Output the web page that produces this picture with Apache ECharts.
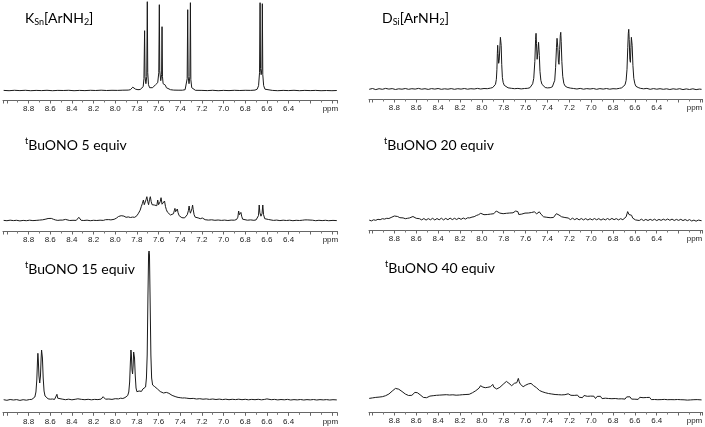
<!DOCTYPE html>
<html><head><meta charset="utf-8">
<script src="https://cdn.jsdelivr.net/npm/echarts@6/dist/echarts.min.js"></script>
<style>html,body{margin:0;padding:0;background:#fff}#c{width:705px;height:427px}</style>
</head><body><div id="c"></div>
<script>
// ---- spectra: [ppm, intensity] (baseline = 0) ----
const specKSn = [[9.03,0.3],[8.98,0],[8.93,0.4],[8.88,0.1],[8.83,0.4],[8.78,0],[8.73,0.3],[8.68,0.1],[8.63,0.4],[8.58,0],[8.53,0.3],[8.48,0.2],[8.43,0.4],[8.38,0],[8.33,0.3],[8.28,0.1],[8.23,0.4],[8.18,0.2],[8.13,0.5],[8.08,0.2],[8.03,0.4],[7.98,0.3],[7.93,0.5],[7.88,0.6],[7.86,1],[7.845,2.5],[7.838,3.5],[7.83,2],[7.822,3.2],[7.812,1.5],[7.79,1],[7.77,1.2],[7.755,1.8],[7.742,4],[7.735,12],[7.729,60],[7.725,14],[7.717,7],[7.709,14],[7.704,89],[7.7,18],[7.693,6],[7.683,3],[7.67,2.5],[7.655,3],[7.645,4.5],[7.638,3.5],[7.628,6],[7.62,5],[7.608,8],[7.598,18],[7.593,86],[7.589,20],[7.58,10],[7.572,16],[7.568,64],[7.564,14],[7.558,7],[7.552,8.5],[7.545,5],[7.537,5.5],[7.528,3],[7.515,1.5],[7.49,1],[7.46,0.6],[7.42,0.5],[7.38,0.5],[7.355,1],[7.343,3],[7.336,12],[7.331,81],[7.327,14],[7.319,7],[7.311,14],[7.306,88],[7.302,11],[7.294,3],[7.282,1],[7.26,0.4],[7.2,0.3],[7.15,0.1],[7.1,0.4],[7.05,0],[7.0,0.3],[6.95,0.1],[6.9,0.4],[6.85,0.2],[6.8,0.4],[6.75,0.3],[6.71,0.6],[6.69,1.5],[6.677,5],[6.668,18],[6.663,88],[6.659,22],[6.653,16],[6.646,22],[6.642,87],[6.638,16],[6.63,5],[6.618,1.5],[6.6,0.6],[6.55,0.3],[6.5,0],[6.45,0.3],[6.4,0.1],[6.35,0.4],[6.3,0],[6.25,0.3],[6.2,0.1],[6.15,0.3],[6.1,0],[6.05,0.2],[6.0,0],[5.955,0.2]];

const specDSi = [[9.03,0],[9.0,0.8],[8.97,-0.3],[8.94,0.6],[8.91,0],[8.88,0.9],[8.85,0.2],[8.82,0.7],[8.79,-0.2],[8.76,0.5],[8.73,0.1],[8.7,0.8],[8.67,0],[8.64,0.6],[8.61,0.2],[8.58,0.9],[8.55,0.1],[8.52,0.6],[8.49,-0.1],[8.46,0.7],[8.43,0.2],[8.4,0.8],[8.37,0],[8.34,0.5],[8.31,0.1],[8.28,0.7],[8.25,0],[8.22,0.6],[8.19,0.2],[8.16,0.8],[8.13,0.1],[8.1,0.6],[8.07,0.3],[8.04,0.9],[8.01,0.3],[7.98,0.8],[7.95,0.6],[7.92,1.2],[7.9,1.8],[7.885,3],[7.875,5],[7.867,10],[7.862,20],[7.858,36],[7.855,44],[7.852,36],[7.846,26],[7.841,29],[7.834,44],[7.83,52],[7.827,54],[7.823,44],[7.818,25],[7.812,12],[7.805,7],[7.795,4],[7.78,2.5],[7.76,1.5],[7.73,1],[7.7,0.6],[7.67,0.9],[7.64,0.4],[7.61,0.8],[7.58,1],[7.56,1.6],[7.545,3],[7.535,5.5],[7.525,11],[7.515,28],[7.508,50],[7.504,56],[7.5,46],[7.494,30],[7.49,28],[7.485,40],[7.481,47],[7.478,46],[7.474,34],[7.468,18],[7.46,9],[7.45,5],[7.44,3],[7.42,1.8],[7.4,1.4],[7.375,1.6],[7.355,2.5],[7.343,4.5],[7.333,9],[7.325,22],[7.317,42],[7.312,51],[7.309,53],[7.305,42],[7.299,27],[7.294,25],[7.288,40],[7.282,54],[7.278,57],[7.274,48],[7.268,28],[7.26,13],[7.25,6],[7.24,3.5],[7.22,2],[7.19,1.2],[7.16,0.8],[7.13,0.3],[7.1,0.9],[7.07,0.1],[7.04,0.7],[7.01,0.3],[6.98,0.8],[6.95,0],[6.92,0.7],[6.89,0.2],[6.86,0.8],[6.83,0.1],[6.8,0.6],[6.77,0.4],[6.74,1],[6.72,1.5],[6.705,2.5],[6.69,4.5],[6.68,9],[6.672,20],[6.665,42],[6.66,56],[6.656,60],[6.652,50],[6.646,30],[6.641,27],[6.636,42],[6.632,52],[6.629,54],[6.625,44],[6.618,24],[6.61,11],[6.6,5.5],[6.59,3],[6.57,1.8],[6.55,1],[6.52,0.5],[6.49,0.9],[6.46,0],[6.43,0.7],[6.4,0.1],[6.37,0.6],[6.34,0],[6.31,0.5],[6.28,-0.2],[6.25,0.5],[6.22,0],[6.19,0.6],[6.16,-0.3],[6.13,0.4],[6.1,-0.2],[6.07,0.5],[6.04,-0.3],[6.01,0.2],[5.99,0]];

const spec5eq = [[9.03,0.3],[9.0,0],[8.97,0.5],[8.94,0.1],[8.91,0.4],[8.88,-0.2],[8.85,0.3],[8.82,0],[8.79,0.5],[8.76,0.1],[8.73,0.3],[8.7,0.6],[8.67,0.9],[8.64,1.6],[8.62,2.2],[8.605,2.6],[8.59,2.3],[8.57,1.4],[8.55,0.7],[8.53,0.3],[8.51,0.6],[8.495,1.2],[8.485,0.6],[8.47,0.9],[8.46,1.3],[8.445,0.5],[8.42,0.2],[8.39,0.4],[8.36,0.3],[8.345,1.2],[8.336,3.4],[8.328,1.5],[8.315,0.4],[8.29,0.2],[8.26,0.5],[8.23,0],[8.2,0.4],[8.17,0.2],[8.14,0.5],[8.11,0.3],[8.09,1],[8.075,0.6],[8.06,1.1],[8.04,0.8],[8.01,1.4],[7.99,2.5],[7.97,4.2],[7.955,5.6],[7.945,5],[7.935,4],[7.92,4.6],[7.9,3.4],[7.88,3.8],[7.86,3.2],[7.84,3.6],[7.82,3.4],[7.8,5],[7.785,7.5],[7.77,10.5],[7.76,14],[7.75,17],[7.74,20.7],[7.732,16],[7.724,18],[7.716,21],[7.708,24],[7.7,19],[7.692,16],[7.684,21],[7.676,24],[7.668,19],[7.66,16],[7.65,15.5],[7.64,15.7],[7.632,16.5],[7.624,16.7],[7.616,15],[7.608,20.7],[7.6,16],[7.592,15.5],[7.585,19],[7.577,23],[7.568,16.5],[7.56,16],[7.552,17.5],[7.545,19.7],[7.536,14],[7.528,11],[7.518,8.5],[7.505,6.5],[7.49,5.7],[7.475,6],[7.462,7],[7.455,10],[7.449,12.3],[7.443,9],[7.437,7.5],[7.431,10.5],[7.427,11.7],[7.42,8],[7.41,5],[7.4,3.4],[7.385,3],[7.37,2.5],[7.36,2.8],[7.35,3.5],[7.335,6],[7.325,10],[7.318,14.7],[7.312,10],[7.306,7.5],[7.3,8],[7.292,12],[7.286,15.7],[7.28,11],[7.272,6],[7.262,3.5],[7.245,2.5],[7.235,2.8],[7.227,3.3],[7.215,2],[7.205,2.4],[7.196,2.7],[7.185,1.6],[7.17,1],[7.14,0.6],[7.11,0.9],[7.08,0.4],[7.05,0.7],[7.02,0.3],[6.99,0.6],[6.96,0.2],[6.93,0.6],[6.9,0.5],[6.88,1.2],[6.868,3.5],[6.861,9.7],[6.854,6],[6.847,4.8],[6.84,8.3],[6.833,4.5],[6.824,1.5],[6.81,0.8],[6.78,0.5],[6.75,0.8],[6.72,0.4],[6.7,0.8],[6.688,2],[6.678,5],[6.671,15.7],[6.665,8],[6.655,4.5],[6.645,7],[6.638,15.7],[6.631,6],[6.62,2],[6.605,0.8],[6.585,1.2],[6.57,0.6],[6.54,0.3],[6.51,0.6],[6.48,0.1],[6.45,0.5],[6.42,0.2],[6.39,0.5],[6.36,0],[6.33,0.4],[6.3,0.2],[6.27,0.5],[6.25,0.8],[6.238,2.2],[6.228,0.8],[6.21,0.3],[6.18,0.5],[6.15,0],[6.12,0.4],[6.09,0.1],[6.06,0.4],[6.03,0],[5.99,0.3],[5.955,0.1]];

const spec20eq = [[9.03,1.2],[9.01,0.4],[8.99,1.5],[8.97,1],[8.95,2],[8.93,1.6],[8.91,2.6],[8.89,2.2],[8.87,3],[8.85,2.8],[8.83,3.8],[8.815,4.4],[8.8,5.3],[8.785,4.6],[8.77,4.8],[8.75,3.6],[8.735,3],[8.72,3.4],[8.7,2.6],[8.68,3],[8.66,3.4],[8.645,4.2],[8.63,4.8],[8.615,4.2],[8.6,3],[8.585,2.2],[8.57,2.6],[8.55,1.4],[8.53,2.8],[8.51,1.2],[8.49,2.7],[8.47,1.5],[8.45,3],[8.43,1.3],[8.41,2.8],[8.39,1.5],[8.37,3.1],[8.35,1.4],[8.33,2.9],[8.31,1.6],[8.29,3.2],[8.27,1.7],[8.25,3],[8.23,1.8],[8.21,3.2],[8.19,1.9],[8.17,3.3],[8.15,2.2],[8.13,3.5],[8.11,3.4],[8.09,4.2],[8.07,4.6],[8.05,5.8],[8.03,6.6],[8.01,8],[7.995,7.2],[7.98,6.6],[7.965,7.3],[7.95,6.8],[7.935,7.6],[7.92,7.2],[7.905,8.2],[7.89,7.6],[7.875,8.6],[7.868,10.3],[7.862,8.5],[7.856,10],[7.85,8.6],[7.835,8.2],[7.82,8.8],[7.805,7.6],[7.79,8.6],[7.775,8],[7.76,9],[7.745,8.3],[7.73,8.8],[7.715,8.5],[7.7,9.6],[7.69,10.3],[7.68,10.3],[7.67,9.6],[7.662,6.8],[7.65,6.2],[7.635,7.2],[7.62,7.6],[7.605,8.2],[7.59,7.6],[7.575,8.3],[7.56,7.8],[7.545,8.8],[7.53,8.6],[7.52,9.5],[7.513,11.3],[7.506,8.2],[7.498,7.5],[7.49,8.6],[7.482,8.2],[7.474,9.5],[7.466,9.3],[7.458,7],[7.45,5.5],[7.435,4.5],[7.42,3.8],[7.405,4],[7.39,3.4],[7.375,3.6],[7.36,3.2],[7.345,3.8],[7.33,4.6],[7.318,7.6],[7.31,8],[7.302,7.2],[7.294,6.3],[7.285,5.8],[7.27,4.5],[7.255,3.2],[7.24,3.8],[7.225,2.2],[7.21,3.3],[7.19,1.7],[7.17,3.1],[7.15,1.6],[7.13,2.9],[7.11,1.4],[7.09,2.8],[7.07,1.4],[7.05,2.7],[7.03,1.3],[7.01,2.6],[6.99,1.4],[6.97,2.8],[6.95,1.5],[6.93,2.7],[6.91,1.2],[6.89,2.5],[6.87,1.4],[6.85,2.8],[6.83,1.5],[6.81,2.9],[6.79,1.6],[6.77,2.7],[6.75,1.4],[6.73,2.6],[6.71,1.6],[6.695,2.6],[6.68,4.5],[6.672,7.5],[6.666,9.7],[6.66,8],[6.654,6.8],[6.646,7.5],[6.638,8],[6.63,6],[6.62,3.2],[6.61,2],[6.595,1.4],[6.58,2.3],[6.56,0.8],[6.54,2.1],[6.52,0.7],[6.5,1.9],[6.48,0.8],[6.46,2],[6.44,0.9],[6.42,2.1],[6.4,0.7],[6.38,1.9],[6.36,0.9],[6.34,2.1],[6.32,1.1],[6.3,2.3],[6.28,1],[6.26,2.2],[6.24,0.8],[6.22,1.9],[6.2,0.9],[6.18,2],[6.16,0.7],[6.14,1.8],[6.12,0.6],[6.1,1.7],[6.08,0.3],[6.06,1.2],[6.04,0.1],[6.02,1.2],[5.99,0.6]];

const spec15eq = [[9.03,0.3],[9.0,-0.3],[8.97,0.5],[8.94,0],[8.91,0.4],[8.88,-0.4],[8.85,0.3],[8.82,-0.2],[8.79,0.5],[8.77,0.6],[8.755,1.2],[8.742,3],[8.732,8],[8.724,20],[8.718,38],[8.714,46.7],[8.71,40],[8.704,24],[8.697,17],[8.69,24],[8.684,42],[8.68,50],[8.676,51],[8.672,42],[8.665,22],[8.657,9],[8.648,4],[8.635,2],[8.62,1.2],[8.6,0.8],[8.58,1],[8.56,0.6],[8.545,1.5],[8.538,5.7],[8.531,1.8],[8.52,0.5],[8.49,0.9],[8.46,0.3],[8.43,0.8],[8.4,0.2],[8.37,0.7],[8.345,1.2],[8.33,1.5],[8.31,0.6],[8.28,0.3],[8.25,0.7],[8.22,0.2],[8.19,0.6],[8.16,0.4],[8.13,0.9],[8.118,2.2],[8.112,3.3],[8.104,1.6],[8.09,0.8],[8.06,1],[8.03,0.6],[8.0,1.3],[7.97,1.1],[7.95,1.8],[7.93,1.5],[7.91,2.4],[7.895,3.4],[7.885,4.5],[7.875,8],[7.867,18],[7.86,38],[7.855,50],[7.851,45],[7.845,30],[7.84,26],[7.835,34],[7.83,48],[7.826,50],[7.822,42],[7.815,24],[7.808,12],[7.8,8.3],[7.79,7.8],[7.78,9],[7.768,9.3],[7.758,8.6],[7.745,11],[7.73,11.5],[7.72,13],[7.712,22],[7.705,45],[7.698,105],[7.692,146],[7.688,149],[7.684,145],[7.678,100],[7.671,45],[7.664,22],[7.655,15],[7.645,14],[7.635,13.3],[7.625,12],[7.61,11],[7.598,10],[7.585,8.5],[7.57,6.7],[7.555,7],[7.545,8],[7.537,8.3],[7.528,7.6],[7.515,6.5],[7.505,6.7],[7.49,5.5],[7.475,4.6],[7.46,4],[7.44,3.2],[7.42,2.6],[7.4,2.3],[7.38,2],[7.36,2.1],[7.34,1.8],[7.31,1.4],[7.28,1.6],[7.25,1],[7.22,1.3],[7.19,0.8],[7.16,1.1],[7.13,0.6],[7.1,1],[7.07,0.5],[7.04,0.9],[7.01,0.4],[6.98,0.8],[6.95,0.3],[6.92,0.7],[6.89,0.4],[6.86,0.8],[6.83,0.3],[6.8,0.7],[6.77,0.2],[6.74,0.6],[6.71,0.3],[6.68,0.7],[6.65,0.2],[6.62,0.6],[6.6,1.1],[6.585,0.6],[6.56,0.3],[6.53,0.6],[6.5,0.1],[6.47,0.5],[6.44,0.2],[6.41,0.6],[6.38,0],[6.35,0.4],[6.32,0.1],[6.29,0.5],[6.26,0],[6.23,0.4],[6.2,0.1],[6.17,0.5],[6.14,0],[6.11,0.4],[6.08,0.1],[6.05,0.4],[6.02,0],[5.99,0.3],[5.955,0.1]];

const spec40eq = [[9.03,2.3],[9.015,1.6],[9.0,2.8],[8.985,2.2],[8.97,3.3],[8.955,2.6],[8.94,3.6],[8.925,3],[8.91,4],[8.895,3.8],[8.88,5],[8.865,5.6],[8.85,6.7],[8.835,8],[8.82,9.6],[8.805,11],[8.79,12.3],[8.775,12],[8.76,11.5],[8.745,10.7],[8.73,9.2],[8.715,7.8],[8.7,6.7],[8.685,6.2],[8.67,5.2],[8.655,5.7],[8.64,5.4],[8.625,6.6],[8.612,8.3],[8.6,7.2],[8.59,8],[8.578,7.3],[8.565,6],[8.55,4.6],[8.535,3.3],[8.52,3.8],[8.505,3],[8.49,2.7],[8.475,4.6],[8.46,3.0],[8.445,5.0],[8.43,3.5],[8.415,5.4],[8.4,3.8],[8.385,5.6],[8.37,4.0],[8.355,5.8],[8.34,3.9],[8.325,6.0],[8.31,4.2],[8.295,5.7],[8.28,4.0],[8.265,5.9],[8.25,4.3],[8.235,5.5],[8.22,3.9],[8.205,5.7],[8.19,4.3],[8.175,6.0],[8.16,4.5],[8.145,6.2],[8.13,5.0],[8.115,6.4],[8.1,6.7],[8.085,8],[8.07,8.8],[8.055,10],[8.04,11.5],[8.025,12.6],[8.012,15],[8.0,14.2],[7.99,13.6],[7.98,14.5],[7.968,13],[7.956,12.5],[7.945,13.4],[7.932,12.6],[7.92,14],[7.91,13.2],[7.9,16.3],[7.89,13.5],[7.878,12.4],[7.864,11.7],[7.85,12.6],[7.835,13.4],[7.82,14.6],[7.805,16.4],[7.79,18],[7.775,19.3],[7.765,18.6],[7.752,17.4],[7.74,16.6],[7.727,15],[7.715,16],[7.702,17.4],[7.69,18.5],[7.68,18],[7.672,20],[7.666,22.3],[7.658,19],[7.648,16.5],[7.636,15],[7.622,14],[7.61,14.8],[7.598,15.6],[7.586,16.3],[7.574,16.8],[7.562,17],[7.55,17.3],[7.538,16],[7.526,15],[7.514,13.8],[7.5,13],[7.486,11.5],[7.472,10.2],[7.46,9.2],[7.448,9],[7.435,8.4],[7.42,8],[7.405,7.4],[7.39,7.2],[7.375,6.5],[7.36,6.7],[7.345,5.8],[7.33,6.2],[7.315,5.6],[7.3,6],[7.285,5.2],[7.27,5.8],[7.255,5.4],[7.24,6],[7.225,6.2],[7.21,6.9],[7.198,6],[7.185,5.4],[7.17,5],[7.155,5.3],[7.14,3.6],[7.125,5.6],[7.11,3.5],[7.095,5.1],[7.08,3.0],[7.065,5.2],[7.05,3.3],[7.035,4.4],[7.02,2.6],[7.005,4.6],[6.99,2.8],[6.975,4.5],[6.96,2.2],[6.945,4.3],[6.93,2.6],[6.915,4.4],[6.9,2.1],[6.885,4.1],[6.87,2.5],[6.855,4.2],[6.84,2.2],[6.825,4.0],[6.81,2.0],[6.795,3.9],[6.78,2.2],[6.765,4.1],[6.75,1.8],[6.735,3.7],[6.72,1.9],[6.705,3.4],[6.69,1.6],[6.675,3.8],[6.66,1.9],[6.645,3.9],[6.63,1.6],[6.615,3.5],[6.6,1.5],[6.585,3.3],[6.57,1.3],[6.555,3.4],[6.54,1.4],[6.525,3.0],[6.51,1.1],[6.495,3.2],[6.48,1.4],[6.465,3.3],[6.45,1.1],[6.435,3.0],[6.42,1.2],[6.405,3.1],[6.39,1.0],[6.375,2.9],[6.36,1.1],[6.345,3.0],[6.33,1.3],[6.315,3.1],[6.3,1.0],[6.285,2.9],[6.27,1.1],[6.255,2.8],[6.24,1.0],[6.225,3.0],[6.21,1.2],[6.195,2.8],[6.18,1.0],[6.165,2.4],[6.15,0.9],[6.135,0.2],[6.12,0.6],[6.105,0.1],[6.09,0.8],[6.075,0.4],[6.06,1],[6.045,0.6],[6.03,1.1],[6.015,0.7],[5.99,0.8]];

// ---- panel titles (rich text) ----
const titleKSn = '{n|K}{s|Sn}{n|[ArNH}{s|2}{n|]}';
const titleDSi = '{n|D}{s|Si}{n|[ArNH}{s|2}{n|]}';
const title5  = '{p|t}{n|BuONO 5 equiv}';
const title20 = '{p|t}{n|BuONO 20 equiv}';
const title15 = '{p|t}{n|BuONO 15 equiv}';
const title40 = '{p|t}{n|BuONO 40 equiv}';

// ---- layout ----
const panels = [
  {t: titleKSn, d: specKSn, L: 3,   W: 334, T: 0,   H: 100,   yMin: -9.3,  tx: 25,  ty: 10,  xr: [5.953, 9.036], pp: 3},
  {t: titleDSi, d: specDSi, L: 369, W: 333, T: 0,   H: 99,    yMin: -9.7,  tx: 382, ty: 10,  xr: [5.986, 9.032], pp: 12},
  {t: title5,   d: spec5eq, L: 3,   W: 334, T: 131, H: 100,   yMin: -10.3, tx: 25,  ty: 137, xr: [5.953, 9.036], pp: 3},
  {t: title20,  d: spec20eq,L: 369, W: 333, T: 130, H: 100,   yMin: -8.7,  tx: 384, ty: 137, xr: [5.986, 9.032], pp: 12},
  {t: title15,  d: spec15eq,L: 3,   W: 334, T: 250, H: 162.3, yMin: -12.3, tx: 25,  ty: 261, xr: [5.953, 9.036], pp: 3},
  {t: title40,  d: spec40eq,L: 369, W: 333, T: 250, H: 162,   yMin: -11.3, tx: 385, ty: 260, xr: [5.986, 9.032], pp: 12}
];

const FONT = 'Lato';
const rich = {
  n: {fontSize: 14, fontFamily: FONT, fontWeight: 'normal', color: '#000', lineHeight: 17},
  s: {fontSize: 9, fontFamily: FONT, fontWeight: 'normal', color: '#000', lineHeight: 8, verticalAlign: 'bottom'},
  p: {fontSize: 9, fontFamily: FONT, fontWeight: 'normal', color: '#000', lineHeight: 10, verticalAlign: 'top'}
};

const option = {
  animation: false,
  backgroundColor: '#fff',
  title: panels.map(p => ({text: p.t, left: p.tx, top: p.ty, padding: 0,
    textStyle: {fontWeight: 'normal', fontFamily: FONT, rich: rich}})),
  grid: panels.map(p => ({left: p.L, top: p.T, width: p.W, height: p.H,
    containLabel: false, outerBoundsMode: 'none'})),
  xAxis: panels.map((p, i) => ({
    type: 'value', gridIndex: i, inverse: true, min: p.xr[0], max: p.xr[1], splitNumber: 15,
    axisLine: {show: true, onZero: false, lineStyle: {color: '#666', width: 1}},
    axisTick: {show: true, length: 3.5, lineStyle: {color: '#666'}},
    minorTick: {show: true, splitNumber: 2, length: 2.5, lineStyle: {color: '#777'}},
    splitLine: {show: false}, minorSplitLine: {show: false},
    axisLabel: {
      fontSize: 8, color: '#222', fontFamily: 'Liberation Sans', margin: 5, hideOverlap: false,
      rich: {u: {fontSize: 8, color: '#222', fontFamily: 'Liberation Sans', padding: [0, p.pp, 0, 0]}},
      formatter: v => {
        const r = Math.round(v * 10) / 10;
        if (Math.abs(v - r) > 1e-6) return '';
        if (Math.abs(r - 6.0) < 1e-6) return '{u|ppm}';
        if (Math.abs(r - 6.2) < 1e-6 || Math.abs(r - 9.0) < 1e-6) return '';
        return r.toFixed(1);
      }
    }
  })),
  yAxis: panels.map((p, i) => ({
    type: 'value', gridIndex: i, min: p.yMin, max: p.yMin + p.H, show: false
  })),
  series: panels.map((p, i) => ({
    type: 'line', xAxisIndex: i, yAxisIndex: i, data: p.d, showSymbol: false, symbol: 'none',
    lineStyle: {color: '#1a1a1a', width: 1}, silent: true, clip: false
  }))
};

const chart = echarts.init(document.getElementById('c'), null, {renderer: 'canvas'});
chart.setOption(option);
</script>
</body></html>
